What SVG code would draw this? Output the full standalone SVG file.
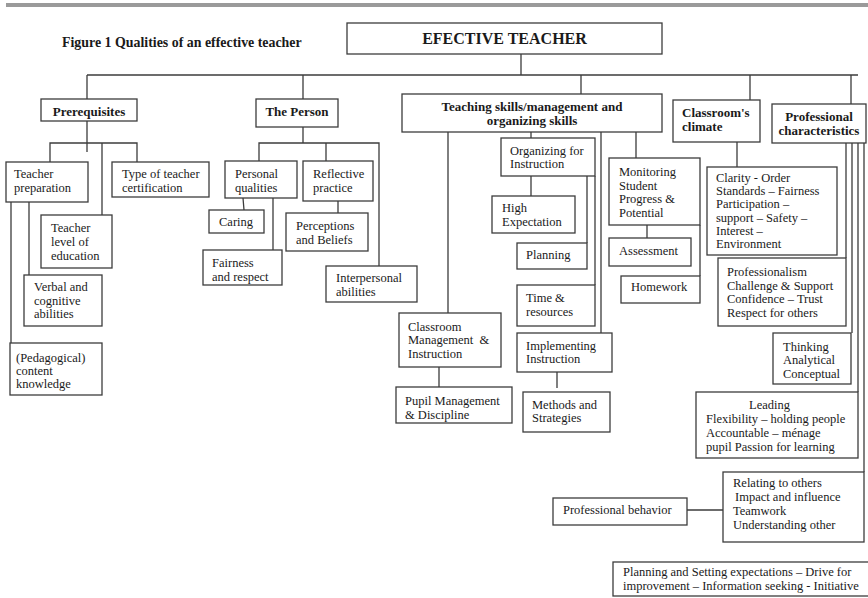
<svg xmlns="http://www.w3.org/2000/svg" width="868" height="598" viewBox="0 0 868 598">
<style>
.box{fill:#fff;stroke:#3c3c3c;stroke-width:1.3}
.c{fill:none;stroke:#3c3c3c;stroke-width:1.3}
.t{font-family:"Liberation Serif","Times New Roman",serif;font-size:12.5px;fill:#1a1a1a}
.h{font-family:"Liberation Serif","Times New Roman",serif;font-size:13px;font-weight:bold;fill:#1a1a1a}
.m{text-anchor:middle}
</style>
<rect x="6" y="3" width="862" height="4" fill="#9a9a9a"/>
<text x="62" y="47" class="h" style="font-size:13.9px">Figure 1 Qualities of an effective teacher</text>

<g id="connectors">
<path class="c" d="M521 54V75M87 75H858M87 75V99M303 75V99M581 75V94M750 75V100M851 75V104"/>
<path class="c" d="M87 121V152M50 162V143H137V162M102 143V215M29 202V275M11 202V343"/>
<path class="c" d="M303 127V143M259 161V143H379V266M326 143V161M243 198L244 210M273 198V250M338 201V213"/>
<path class="c" d="M448 132V313M531 132V138M601 132V333M636 132V158M531 176V196M587 176V243M595 176V285M557 372V388M439 367V387"/>
<path class="c" d="M647 225V238M700 225V276"/>
<path class="c" d="M737 142V167M846 143V258M852 143V333M858 143V392M864 143V472M687 510H723"/>
</g>

<g id="root"><rect class="box" x="347" y="23" width="315" height="31"/><text class="h m" x="504.5" y="44" style="font-size:16px">EFECTIVE TEACHER</text></g>

<g id="prerequisites"><rect class="box" x="41" y="99" width="96" height="22"/><text class="h m" x="89" y="116">Prerequisites</text></g>
<g id="person"><rect class="box" x="256" y="99" width="82" height="28"/><text class="h m" x="297" y="116">The Person</text></g>
<g id="teaching"><rect class="box" x="402" y="94" width="260" height="38"/><text class="h m" x="532" y="111">Teaching skills/management and<tspan x="532" y="125">organizing skills</tspan></text></g>
<g id="climate"><rect class="box" x="673" y="100" width="87" height="42"/><text class="h" x="682" y="117">Classroom's<tspan x="682" y="131">climate</tspan></text></g>
<g id="professional"><rect class="box" x="772" y="104" width="94" height="39"/><text class="h m" x="819" y="121">Professional<tspan x="819" y="135">characteristics</tspan></text></g>

<g id="teacher-preparation"><rect class="box" x="6" y="162" width="82" height="40"/><text class="t" x="14" y="178">Teacher<tspan x="14" y="192">preparation</tspan></text></g>
<g id="certification"><rect class="box" x="112" y="162" width="97" height="35"/><text class="t" x="122" y="178">Type of teacher<tspan x="122" y="192">certification</tspan></text></g>
<g id="level-education"><rect class="box" x="41" y="215" width="71" height="53"/><text class="t" x="51" y="232">Teacher<tspan x="51" y="246">level of</tspan><tspan x="51" y="260">education</tspan></text></g>
<g id="verbal"><rect class="box" x="24" y="275" width="78" height="51"/><text class="t" x="34" y="291">Verbal and<tspan x="34" y="305">cognitive</tspan><tspan x="34" y="318">abilities</tspan></text></g>
<g id="pedagogical"><rect class="box" x="10" y="343" width="92" height="52"/><text class="t" x="16" y="362">(Pedagogical)<tspan x="16" y="375">content</tspan><tspan x="16" y="388">knowledge</tspan></text></g>

<g id="personal-qualities"><rect class="box" x="225" y="161" width="72" height="37"/><text class="t" x="235" y="178">Personal<tspan x="235" y="192">qualities</tspan></text></g>
<g id="reflective"><rect class="box" x="303" y="161" width="70" height="40"/><text class="t" x="313" y="178">Reflective<tspan x="313" y="192">practice</tspan></text></g>
<g id="caring"><rect class="box" x="209" y="210" width="55" height="23"/><text class="t" x="219" y="226">Caring</text></g>
<g id="perceptions"><rect class="box" x="286" y="213" width="82" height="38"/><text class="t" x="296" y="230">Perceptions<tspan x="296" y="244">and Beliefs</tspan></text></g>
<g id="fairness"><rect class="box" x="203" y="250" width="79" height="35"/><text class="t" x="212" y="267">Fairness<tspan x="212" y="281">and respect</tspan></text></g>
<g id="interpersonal"><rect class="box" x="326" y="266" width="91" height="36"/><text class="t" x="336" y="282">Interpersonal<tspan x="336" y="296">abilities</tspan></text></g>

<g id="organizing"><rect class="box" x="501" y="138" width="94" height="38"/><text class="t" x="510" y="155">Organizing for<tspan x="510" y="168">Instruction</tspan></text></g>
<g id="high-expectation"><rect class="box" x="492" y="196" width="83" height="37"/><text class="t" x="502" y="212">High<tspan x="502" y="226">Expectation</tspan></text></g>
<g id="planning"><rect class="box" x="517" y="243" width="70" height="26"/><text class="t" x="526" y="259">Planning</text></g>
<g id="time-resources"><rect class="box" x="517" y="285" width="78" height="41"/><text class="t" x="526" y="302">Time &amp;<tspan x="526" y="316">resources</tspan></text></g>
<g id="implementing"><rect class="box" x="517" y="333" width="95" height="39"/><text class="t" x="526" y="350">Implementing<tspan x="526" y="363">Instruction</tspan></text></g>
<g id="methods"><rect class="box" x="523" y="392" width="87" height="40"/><text class="t" x="532" y="409">Methods and<tspan x="532" y="422">Strategies</tspan></text></g>
<g id="classroom-management"><rect class="box" x="399" y="313" width="102" height="54"/><text class="t" x="408" y="331" xml:space="preserve">Classroom<tspan x="408" y="344">Management  &amp;</tspan><tspan x="408" y="358">Instruction</tspan></text></g>
<g id="pupil-management"><rect class="box" x="396" y="387" width="116" height="36"/><text class="t" x="405" y="405">Pupil Management<tspan x="405" y="419">&amp; Discipline</tspan></text></g>

<g id="monitoring"><rect class="box" x="609" y="158" width="91" height="67"/><text class="t" x="619" y="176">Monitoring<tspan x="619" y="190">Student</tspan><tspan x="619" y="203">Progress &amp;</tspan><tspan x="619" y="217">Potential</tspan></text></g>
<g id="assessment"><rect class="box" x="609" y="238" width="82" height="28"/><text class="t" x="619" y="255">Assessment</text></g>
<g id="homework"><rect class="box" x="621" y="276" width="79" height="27"/><text class="t" x="631" y="291">Homework</text></g>

<g id="clarity"><rect class="box" x="707" y="167" width="130" height="88"/><text class="t" x="716" y="182">Clarity - Order<tspan x="716" y="195">Standards – Fairness</tspan><tspan x="716" y="208">Participation –</tspan><tspan x="716" y="222">support – Safety –</tspan><tspan x="716" y="235">Interest –</tspan><tspan x="716" y="248">Environment</tspan></text></g>
<g id="professionalism"><rect class="box" x="718" y="258" width="128" height="68"/><text class="t" x="727" y="276">Professionalism<tspan x="727" y="290">Challenge &amp; Support</tspan><tspan x="727" y="303">Confidence – Trust</tspan><tspan x="727" y="317">Respect for others</tspan></text></g>
<g id="thinking"><rect class="box" x="773" y="333" width="78" height="51"/><text class="t" x="783" y="351">Thinking<tspan x="783" y="364">Analytical</tspan><tspan x="783" y="378">Conceptual</tspan></text></g>
<g id="leading"><rect class="box" x="696" y="392" width="162" height="66"/><text class="t" x="749" y="409">Leading<tspan x="706" y="423">Flexibility – holding people</tspan><tspan x="706" y="437">Accountable – ménage</tspan><tspan x="706" y="451">pupil Passion for learning</tspan></text></g>
<g id="relating"><rect class="box" x="723" y="472" width="141" height="70"/><text class="t" x="733" y="487">Relating to others<tspan x="735" y="501">Impact and influence</tspan><tspan x="733" y="515">Teamwork</tspan><tspan x="733" y="529">Understanding  other</tspan></text></g>
<g id="professional-behavior"><rect class="box" x="553" y="498" width="134" height="27"/><text class="t" x="563" y="514">Professional behavior</text></g>
<g id="planning-expectations"><rect class="box" x="613" y="562" width="262" height="34"/><text class="t" x="623" y="576">Planning and Setting expectations – Drive for<tspan x="623" y="590">improvement – Information seeking - Initiative</tspan></text></g>
</svg>
